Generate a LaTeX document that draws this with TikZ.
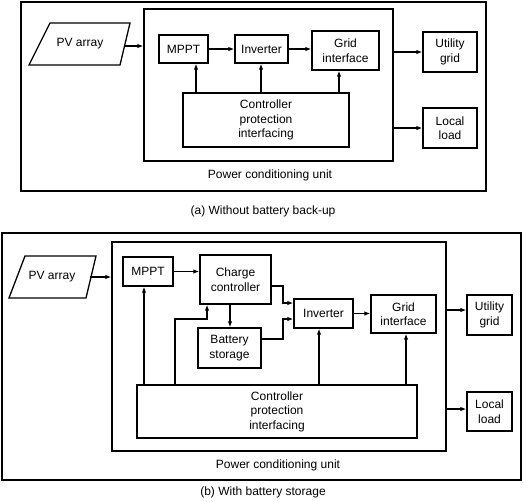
\documentclass[tikz,border=0pt]{standalone}
\usepackage{fontspec}
\setmainfont{Liberation Sans}
\usetikzlibrary{arrows.meta}

\begin{document}
\begin{tikzpicture}[x=1pt,y=1pt,
  font=\fontsize{12}{14.5}\selectfont,
  ln/.style={line width=1.3pt},
  blk/.style={draw,ln,align=center,inner sep=0pt},
  arr/.style={ln,-{Latex[length=6pt,width=4.5pt]}}]
\useasboundingbox (0,0) rectangle (526,-501);

\draw [ln] (21,-2) rectangle (486,-191);
\node [blk,minimum width=249,minimum height=152] (pcu1) at (268.5,-85) {};
\draw [ln] (29,-65) -- (50,-23) -- (130,-23) -- (120,-65) -- cycle;
\node (pv1) at (80,-44) {PV array};
\node [blk,minimum width=49,minimum height=28] (mppt1) at (183.5,-49) {MPPT};
\node [blk,minimum width=53,minimum height=28] (inv1) at (261.5,-49) {Inverter};
\node [blk,minimum width=67,minimum height=39] (grid1) at (345.5,-50.5) {Grid\\interface};
\node [blk,minimum width=166,minimum height=54] (ctrl1) at (266,-120) {Controller\\protection\\interfacing};
\node [blk,minimum width=54,minimum height=40] (util1) at (450,-52) {Utility\\grid};
\node [blk,minimum width=54,minimum height=40] (load1) at (450,-128) {Local\\load};
\node (pcu1lbl) at (270,-175) {Power conditioning unit};
\node (cap1) at (263,-211) {(a) Without battery back-up};
\coordinate (p1) at (124,-46);
\coordinate (c1) at (196,-93);
\coordinate (c2) at (261,-93);
\coordinate (c3) at (339,-93);
\draw [arr] (p1) -- (p1 -| pcu1.west);
\draw [arr] (mppt1.east) -- (inv1.west);
\draw [arr] (inv1.east) -- (inv1.east -| grid1.west);
\draw [arr] (c1) -- (c1 |- mppt1.south);
\draw [arr] (c2) -- (c2 |- inv1.south);
\draw [arr] (c3) -- (c3 |- grid1.south);
\draw [arr] (pcu1.east |- util1) -- (util1.west);
\draw [arr] (pcu1.east |- load1) -- (load1.west);

\draw [ln] (2,-233) rectangle (521,-480);
\node [blk,minimum width=334,minimum height=209] (pcu2) at (279,-346.5) {};
\draw [ln] (9,-298) -- (25,-256) -- (96,-256) -- (86,-298) -- cycle;
\node (pv2) at (52,-277) {PV array};
\node [blk,minimum width=50,minimum height=29] (mppt2) at (148,-271.5) {MPPT};
\node [blk,minimum width=71,minimum height=49] (chg2) at (235.5,-279.5) {Charge\\controller};
\node [blk,minimum width=63,minimum height=40] (bat2) at (229.5,-348) {Battery\\storage};
\node [blk,minimum width=59,minimum height=29] (inv2) at (323.5,-313.5) {Inverter};
\node [blk,minimum width=65,minimum height=38] (grid2) at (403.5,-314) {Grid\\interface};
\node [blk,minimum width=280,minimum height=53] (ctrl2) at (277,-411.5) {Controller\\protection\\interfacing};
\node [blk,minimum width=45,minimum height=40] (util2) at (489.5,-315) {Utility\\grid};
\node [blk,minimum width=45,minimum height=39] (load2) at (489.5,-411.5) {Local\\load};
\node (pcu2lbl) at (278,-465) {Power conditioning unit};
\node (cap2) at (263,-492) {(b) With battery storage};
\coordinate (p2) at (90,-277);
\coordinate (k1) at (271,-286);
\coordinate (k2) at (283,-303);
\coordinate (k3) at (261,-339);
\coordinate (k4) at (283,-319);
\coordinate (k5) at (230,-304);
\coordinate (k6) at (207,-319);
\coordinate (c5) at (144,-385);
\coordinate (c6) at (175,-385);
\coordinate (c7) at (319,-385);
\coordinate (c8) at (406,-385);
\coordinate (o1) at (446,-310);
\coordinate (o2) at (446,-409);
\draw [arr] (p2) -- (p2 -| pcu2.west);
\draw [arr] (mppt2.east) -- (mppt2.east -| chg2.west);
\draw [arr] (k1) -| (k2) -- (k2 -| inv2.west);
\draw [arr] (k3) -| (k4) -- (k4 -| inv2.west);
\draw [arr] (k5) -- (k5 |- bat2.north);
\draw [arr] (inv2.east) -- (inv2.east -| grid2.west);
\draw [arr] (c5) -- (c5 |- mppt2.south);
\draw [arr] (c6) |- (k6) -- (k6 |- chg2.south);
\draw [arr] (c7) -- (c7 |- inv2.south);
\draw [arr] (c8) -- (c8 |- grid2.south);
\draw [arr] (o1) -- (o1 -| util2.west);
\draw [arr] (o2) -- (o2 -| load2.west);
\end{tikzpicture}
\end{document}
